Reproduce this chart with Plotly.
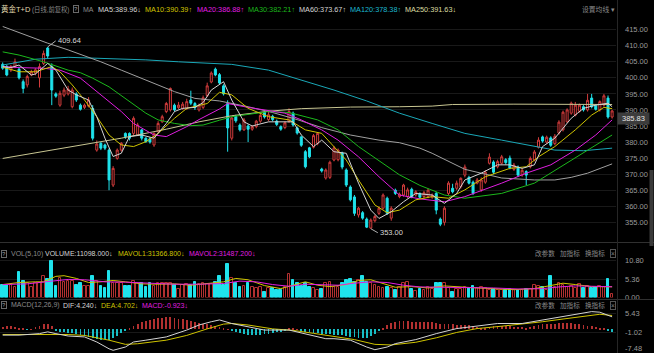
import plotly.graph_objects as go

W, H = 654, 353

# ---------------- price data ----------------
opens = [404.2, 403.5, 402.4, 403.5, 402.7, 398.8, 397.8, 400.9, 401.5, 400.0,
 404.5, 409.3, 403.5, 395.0, 391.5, 394.6, 395.0, 391.0, 395.0, 391.5,
 390.8, 391.2, 390.5, 377.5, 379.6, 379.1, 377.5, 366.6, 374.9, 377.5,
 382.7, 382.7, 382.7, 382.2, 383.8, 381.2, 381.0, 379.1, 383.2, 386.3,
 389.5, 390.0, 391.5, 390.7, 390.5, 390.5, 393.1, 392.0, 390.0, 390.8,
 394.5, 398.7, 402.7, 401.0, 397.5, 392.0, 381.2, 388.0, 385.3, 383.8,
 385.0, 384.0, 384.8, 386.5, 389.3, 387.0, 388.0, 386.5, 384.8, 384.5,
 386.5, 389.0, 384.4, 381.6, 377.0, 378.2, 378.4, 379.6, 371.6, 368.8,
 369.0, 374.4, 374.5, 376.6, 371.3, 366.0, 362.9, 357.3, 358.0, 356.0,
 353.2, 355.5, 357.8, 359.4, 362.5, 356.3, 365.0, 363.0, 363.5, 363.0,
 365.3, 363.5, 364.0, 363.0, 363.0, 362.8, 364.0, 356.0, 355.0, 364.0,
 365.6, 365.6, 366.1, 369.7, 369.0, 367.5, 367.2, 365.1, 367.5, 373.4,
 373.8, 372.3, 373.4, 374.5, 375.0, 371.5, 372.2, 369.7, 370.8, 372.3,
 374.4, 378.4, 381.6, 380.0, 381.3, 379.5, 382.8, 383.8, 386.3, 389.0,
 388.4, 389.6, 391.0, 390.0, 393.7, 391.3, 390.0, 391.5, 393.7, 387.8]

highs = [404.8, 404.0, 404.0, 406.0, 403.5, 399.5, 401.0, 402.5, 403.0, 404.5,
 408.5, 409.64, 404.5, 395.5, 396.0, 397.0, 397.5, 397.0, 395.5, 392.0,
 392.0, 394.0, 391.5, 380.5, 380.0, 379.5, 378.0, 372.5, 378.0, 380.0,
 383.0, 383.0, 388.0, 386.0, 384.0, 381.5, 381.5, 383.0, 386.5, 388.5,
 392.5, 397.0, 392.0, 392.5, 392.5, 393.5, 396.0, 392.5, 392.0, 394.5,
 398.5, 402.0, 403.2, 401.5, 398.0, 393.0, 388.0, 388.5, 385.8, 387.5,
 385.5, 385.3, 386.9, 389.0, 389.8, 389.5, 388.5, 387.0, 385.2, 386.5,
 390.5, 389.5, 384.8, 382.0, 377.5, 378.5, 382.5, 383.0, 372.0, 371.8,
 374.2, 378.8, 378.0, 377.0, 371.8, 366.5, 363.5, 359.8, 358.5, 356.5,
 356.2, 357.3, 360.0, 364.0, 363.0, 360.0, 365.5, 364.3, 367.0, 365.8,
 365.8, 365.0, 364.3, 364.8, 365.5, 364.0, 364.5, 356.5, 360.0, 367.8,
 367.0, 368.0, 369.0, 373.0, 369.5, 368.0, 368.8, 369.0, 371.2, 376.5,
 374.3, 374.5, 376.0, 375.0, 375.8, 373.5, 372.7, 371.8, 371.2, 375.5,
 377.5, 381.5, 382.0, 382.0, 381.8, 382.5, 386.8, 389.8, 390.5, 392.6,
 392.5, 392.0, 391.5, 395.0, 395.0, 391.8, 393.0, 395.0, 394.5, 390.0]

lows = [402.5, 400.5, 401.8, 403.0, 399.5, 395.2, 397.0, 400.5, 400.8, 397.0,
 404.0, 406.0, 391.5, 393.8, 391.0, 394.0, 394.5, 390.5, 392.5, 389.8,
 390.3, 390.8, 380.5, 377.0, 377.5, 377.5, 365.0, 366.0, 374.5, 377.0,
 381.0, 380.5, 382.0, 382.0, 380.5, 379.8, 379.5, 378.5, 383.0, 386.0,
 389.0, 389.5, 389.5, 390.3, 390.0, 390.0, 391.5, 390.0, 389.5, 390.3,
 394.0, 398.3, 400.5, 398.0, 394.5, 377.0, 380.5, 386.0, 383.3, 383.5,
 380.0, 383.5, 384.3, 386.0, 387.3, 386.5, 386.5, 385.0, 383.5, 384.0,
 386.0, 384.8, 382.3, 378.5, 371.8, 375.0, 378.0, 379.0, 370.5, 368.3,
 368.5, 374.0, 374.0, 371.5, 366.0, 361.5, 357.0, 356.5, 355.8, 353.2,
 353.0, 355.0, 357.3, 359.0, 357.3, 355.5, 363.5, 362.5, 363.0, 362.5,
 362.5, 363.0, 362.3, 362.5, 362.5, 362.3, 357.5, 353.8, 354.0, 363.5,
 364.0, 365.0, 365.5, 369.0, 366.8, 363.5, 366.8, 364.5, 367.0, 373.0,
 370.0, 371.8, 373.0, 373.0, 371.5, 371.0, 369.2, 369.2, 366.6, 371.8,
 374.0, 378.0, 379.8, 379.5, 378.5, 379.0, 382.3, 383.3, 386.0, 388.5,
 388.0, 389.2, 389.5, 389.5, 390.5, 389.8, 389.5, 391.0, 387.3, 387.3]

closes = [403.0, 400.9, 403.5, 405.0, 400.0, 396.7, 400.4, 401.9, 402.5, 403.5,
 407.6, 406.8, 396.2, 394.3, 395.2, 396.2, 396.5, 396.2, 393.1, 390.2,
 391.5, 393.1, 381.2, 379.4, 378.1, 378.1, 368.2, 371.8, 377.5, 379.6,
 381.7, 381.2, 387.4, 385.3, 381.2, 380.1, 380.0, 382.7, 385.8, 387.9,
 392.0, 396.7, 390.0, 391.5, 391.8, 392.6, 392.1, 390.7, 391.5, 393.8,
 397.5, 401.5, 400.9, 398.4, 395.0, 384.4, 387.5, 386.6, 383.8, 386.9,
 384.0, 384.8, 386.5, 388.3, 387.8, 388.5, 387.0, 385.5, 384.0, 386.0,
 389.5, 385.3, 382.8, 379.0, 372.3, 375.4, 382.0, 382.7, 371.0, 371.3,
 373.7, 378.2, 377.5, 372.2, 366.6, 362.0, 357.8, 359.4, 356.3, 353.5,
 355.7, 356.8, 359.4, 363.5, 357.8, 359.4, 364.0, 363.8, 366.6, 365.1,
 362.9, 364.5, 362.8, 364.2, 365.0, 363.5, 358.8, 354.4, 359.4, 367.2,
 364.5, 367.2, 368.7, 372.2, 367.2, 364.0, 368.2, 368.2, 370.6, 375.3,
 370.6, 373.9, 375.4, 373.6, 371.9, 372.8, 369.7, 371.2, 369.7, 374.9,
 376.9, 380.6, 380.3, 381.5, 379.0, 381.8, 386.2, 389.3, 390.0, 392.1,
 391.5, 391.5, 390.0, 393.0, 391.0, 390.2, 392.6, 394.4, 387.8, 389.7]

# volume in units of 10^4
volumes = [3.7, 3.7, 3.7, 3.2, 7.4, 4.9, 4.2, 3.2, 4.3, 4.2,
 6.3, 5.3, 10.8, 3.3, 5.6, 4.6, 4.9, 4.9, 3.7, 4.2,
 3.4, 3.4, 6.3, 4.9, 3.4, 2.7, 7.8, 4.3, 4.2, 4.2,
 3.4, 3.4, 4.9, 4.2, 4.3, 3.2, 4.2, 3.4, 4.2, 4.2,
 4.2, 4.2, 3.8, 2.5, 3.7, 3.9, 3.7, 4.6, 3.9, 4.2,
 3.9, 4.0, 4.6, 6.3, 3.7, 9.7, 5.6, 4.2, 3.2, 3.4,
 4.3, 3.2, 2.7, 3.2, 1.7, 2.7, 2.7, 2.2, 2.2, 3.2,
 6.9, 5.1, 4.2, 3.4, 4.3, 3.2, 2.7, 2.2, 2.4, 4.2,
 4.6, 3.2, 3.2, 4.2, 5.1, 5.3, 4.6, 5.1, 6.3, 4.6,
 4.2, 3.7, 3.0, 2.7, 3.2, 2.7, 2.2, 3.2, 4.2, 4.6,
 2.4, 2.0, 2.4, 2.2, 3.2, 2.4, 4.4, 4.2, 4.4, 2.7,
 1.7, 2.4, 2.4, 3.2, 2.7, 3.4, 2.7, 3.0, 2.7, 2.2,
 2.4, 2.2, 2.2, 2.2, 2.4, 2.2, 2.2, 2.2, 2.4, 2.4,
 3.7, 3.4, 3.0, 2.2, 6.4, 3.2, 4.4, 3.7, 3.2, 3.4,
 2.7, 4.0, 2.7, 3.4, 2.7, 3.2, 3.4, 3.2, 5.3, 1.11]

macd_hist = [0.9, 1.0, 1.1, 0.9, 0.6, 0.2, -0.1, 0.1, 0.8, 1.3,
 1.8, 2.0, 1.0, -0.4, -0.8, -1.0, -1.2, -1.3, -1.5, -1.8,
 -2.2, -2.6, -3.0, -3.3, -3.6, -3.2, -3.5, -3.0, -2.2, -1.2,
 -0.4, 0.5, 1.3, 1.9, 2.4, 2.8, 3.1, 3.4, 3.7, 4.0,
 4.2, 4.2, 3.9, 3.6, 3.4, 3.1, 2.9, 2.6, 2.3, 2.0,
 1.8, 1.5, 1.1, 0.8, 0.4, 0.1, -0.5, -0.9, -1.3, -1.6,
 -1.8, -2.0, -1.9, -1.8, -1.6, -1.4, -1.2, -0.9, -0.7, -0.3,
 0.3, 0.4, 0.1, -0.3, -0.8, -1.0, -1.1, -1.2, -1.4, -1.5,
 -1.6, -1.7, -1.8, -2.0, -2.2, -2.4, -2.6, -2.8, -2.9, -2.7,
 -2.2, -1.5, -0.6, 0.5, 1.4, 2.2, 2.6, 2.8, 2.9, 2.8,
 2.6, 2.5, 2.4, 2.4, 2.6, 2.5, 2.3, 2.0, 1.8, 1.8,
 1.7, 1.5, 1.4, 1.6, 1.5, 1.2, 0.9, 0.6, 0.5, 0.8,
 1.0, 1.1, 1.2, 1.1, 1.0, 0.9, 0.8, 0.8, 0.6, 0.9,
 1.2, 1.6, 1.8, 2.0, 1.8, 1.9, 2.1, 2.3, 2.2, 2.2,
 2.0, 1.8, 1.5, 1.3, 1.0, 0.7, 0.4, 0.2, -0.5, -0.92]

# moving-average lines read at sample candles (index, value)
ma5_i = [0, 2, 4, 7, 8, 11, 13, 16, 18, 21, 23, 25, 27, 29, 31, 34, 37, 40, 42, 44, 47, 49, 51, 54, 56, 59, 61, 65, 69, 71, 73, 76, 78, 81, 84, 87, 90, 92, 95, 98, 101, 105, 108, 111, 113, 117, 121, 124, 127, 130, 132, 135, 139, 142, 145, 148, 149]
ma5_v = [403.5, 403.2, 404.0, 400.9, 401.2, 404.5, 402.4, 396.2, 394.7, 393.1, 387.9, 381.2, 375.5, 376.5, 381.7, 382.2, 381.2, 385.8, 389.5, 390.5, 390.8, 392.3, 396.2, 398.8, 393.1, 386.3, 385.0, 386.3, 386.3, 386.3, 382.2, 378.6, 380.6, 377.0, 376.5, 367.2, 358.8, 356.2, 358.3, 361.4, 364.0, 363.5, 360.9, 364.0, 368.2, 370.3, 372.9, 372.9, 371.8, 372.9, 378.6, 381.2, 387.4, 390.5, 391.5, 392.1, 391.0]
ma10_i = [0, 4, 8, 12, 14, 17, 20, 23, 26, 29, 32, 35, 38, 42, 45, 48, 50, 53, 56, 60, 65, 70, 74, 78, 81, 84, 87, 91, 94, 97, 101, 105, 109, 113, 118, 124, 128, 131, 135, 140, 144, 147, 149]
ma10_v = [403.3, 401.9, 401.9, 403.5, 401.9, 397.8, 393.1, 387.9, 382.2, 379.1, 378.6, 380.1, 382.7, 387.4, 390.5, 391.5, 392.0, 395.5, 394.7, 390.5, 387.9, 386.9, 383.8, 382.7, 378.6, 374.4, 368.2, 360.4, 358.0, 358.8, 362.0, 363.0, 362.5, 365.1, 369.2, 371.8, 372.3, 375.4, 378.6, 383.8, 388.4, 390.8, 390.4]
ma20_i = [0, 4, 10, 14, 19, 24, 29, 32, 37, 40, 45, 48, 53, 55, 60, 69, 73, 78, 82, 87, 92, 97, 102, 108, 113, 122, 128, 134, 140, 145, 149]
ma20_v = [403.5, 403.2, 403.0, 402.4, 399.9, 394.7, 389.5, 385.8, 382.2, 381.7, 384.8, 387.0, 390.3, 392.0, 390.8, 389.0, 386.9, 383.8, 380.6, 375.4, 369.2, 363.5, 362.3, 361.4, 363.0, 367.2, 370.3, 372.9, 377.5, 382.2, 386.9]
ma30_i = [0, 4, 10, 16, 19, 22, 26, 30, 35, 38, 42, 46, 49, 53, 56, 65, 70, 77, 82, 87, 94, 97, 102, 108, 113, 122, 130, 138, 143, 149]
ma30_v = [408.1, 407.1, 405.0, 402.4, 401.6, 399.9, 397.2, 393.6, 389.0, 386.9, 385.8, 385.1, 385.3, 386.8, 387.9, 389.5, 389.2, 386.9, 383.8, 378.6, 372.3, 369.8, 366.5, 363.5, 362.5, 364.0, 367.2, 373.4, 377.5, 382.2]
ma60_i = [0, 11, 16, 24, 29, 35, 42, 47, 53, 60, 66, 72, 78, 85, 92, 97, 102, 105, 113, 122, 130, 135, 139, 143, 149]
ma60_v = [416.0, 410.8, 408.7, 405.0, 402.4, 399.3, 395.7, 393.6, 392.8, 391.0, 389.2, 387.0, 384.5, 382.2, 380.6, 379.8, 378.1, 376.5, 371.5, 368.8, 368.2, 368.2, 369.0, 370.3, 373.2]
ma120_i = [0, 8, 16, 24, 35, 43, 53, 56, 65, 73, 81, 89, 97, 105, 113, 122, 130, 135, 142, 149]
ma120_v = [404.0, 405.8, 406.4, 406.1, 405.6, 405.0, 404.5, 404.2, 402.4, 399.3, 396.2, 392.8, 389.0, 385.8, 382.7, 380.6, 378.6, 377.5, 377.3, 378.1]
ma250_i = [0, 15, 29, 40, 48, 56, 65, 73, 85, 97, 105, 110, 125, 149]
ma250_v = [374.9, 378.2, 381.2, 384.0, 386.3, 388.2, 389.6, 390.4, 390.9, 391.0, 391.2, 391.7, 391.8, 391.7]

mavol1_i = [0, 4, 8, 10, 13, 15, 18, 21, 24, 27, 30, 34, 38, 42, 46, 50, 54, 57, 60, 64, 68, 71, 74, 77, 80, 84, 87, 90, 93, 96, 100, 104, 108, 112, 116, 120, 125, 130, 134, 137, 140, 144, 149]
mavol1_v = [3.8, 4.4, 4.6, 4.6, 6.2, 6.4, 5.6, 4.4, 4.6, 5.0, 4.6, 4.0, 3.9, 4.0, 3.6, 4.0, 4.6, 5.6, 5.2, 3.5, 2.6, 3.6, 4.6, 3.6, 3.2, 3.8, 5.0, 5.2, 4.2, 3.0, 3.2, 2.8, 3.4, 3.0, 2.8, 2.6, 2.3, 2.6, 3.6, 4.2, 3.8, 3.2, 3.14]
mavol2_i = [0, 6, 12, 16, 20, 25, 30, 36, 42, 48, 54, 58, 62, 66, 70, 74, 78, 82, 86, 90, 94, 98, 102, 108, 114, 120, 126, 132, 136, 140, 144, 149]
mavol2_v = [3.8, 4.0, 4.8, 5.3, 5.2, 4.6, 4.5, 4.1, 3.9, 3.9, 4.1, 4.8, 4.6, 3.8, 3.3, 3.9, 3.7, 3.6, 4.2, 4.6, 4.4, 3.6, 3.1, 3.0, 3.0, 2.8, 2.5, 2.6, 3.1, 3.4, 3.3, 3.15]

dif_i = [0, 4, 9, 11, 13, 16, 20, 23, 26, 27, 30, 32, 35, 40, 45, 48, 51, 53, 56, 60, 64, 70, 74, 79, 81, 85, 89, 91, 94, 96, 101, 106, 111, 116, 121, 127, 132, 137, 142, 144, 146, 149]
dif_v = [-1.9, -1.9, -1.4, -0.8, -1.4, -2.2, -2.5, -4.2, -6.5, -7.0, -5.9, -4.2, -3.6, -2.5, -0.2, 1.5, 2.6, 3.2, 2.0, 0.9, -0.2, -0.2, -1.4, -3.1, -3.1, -3.6, -5.9, -6.8, -5.9, -4.75, -3.4, -1.4, 0.3, 1.1, 2.0, 2.0, 3.2, 4.3, 5.4, 6.0, 5.8, 4.24]
dea_i = [0, 10, 16, 20, 26, 30, 33, 40, 45, 50, 54, 56, 60, 66, 71, 76, 81, 86, 91, 95, 101, 106, 111, 116, 122, 127, 132, 137, 142, 146, 149]
dea_v = [-1.7, -1.6, -1.7, -2.0, -3.6, -5.0, -4.8, -3.6, -2.0, 0.2, 1.8, 2.0, 1.5, 0.2, -0.3, -1.3, -2.3, -3.4, -5.0, -5.2, -4.3, -2.8, -1.0, 0.3, 1.1, 1.8, 2.6, 3.5, 4.5, 5.1, 4.70]

price_ticks = [415, 410, 405, 400, 395, 390, 385, 380, 375, 370, 365, 360, 355]
vol_ticks = [10.80, 5.36, 0.00]
macd_ticks = [5.43, -1.02]

# ---------------- style ----------------
BG = '#000000'
RED = '#d23c3c'
RED_DIM = '#b23030'
CYAN = '#1fe3ec'
CYAN_DIM = '#17bcc4'
GRID = '#191919'
TXT = '#9a9a9a'
GRAY = '#8a8a8a'
FONT = 'Liberation Sans, Noto Sans CJK SC, sans-serif'
C_MA5 = '#d4d4d4'
C_MA10 = '#cfc400'
C_MA20 = '#e01ee0'
C_MA30 = '#1cb81c'
C_MA60 = '#a0a0a0'
C_MA120 = '#1aa8b8'
C_MA250 = '#c8c692'

n = len(closes)
idx = list(range(n))
up = [c >= o for o, c in zip(opens, closes)]

fig = go.Figure()

fig.add_trace(go.Candlestick(
    x=idx, open=opens, high=highs, low=lows, close=closes,
    increasing=dict(line=dict(color=RED, width=1), fillcolor=BG),
    decreasing=dict(line=dict(color=CYAN, width=1), fillcolor=CYAN),
    whiskerwidth=0, hoverinfo='skip', xaxis='x', yaxis='y'))

for xi, yv, col in [(ma250_i, ma250_v, C_MA250), (ma120_i, ma120_v, C_MA120),
                    (ma60_i, ma60_v, C_MA60), (ma30_i, ma30_v, C_MA30),
                    (ma20_i, ma20_v, C_MA20), (ma10_i, ma10_v, C_MA10),
                    (ma5_i, ma5_v, C_MA5)]:
    fig.add_trace(go.Scatter(x=xi, y=yv, mode='lines', line=dict(color=col, width=1),
                             hoverinfo='skip', xaxis='x', yaxis='y'))

# volume
fig.add_trace(go.Bar(
    x=idx, y=volumes, width=0.66,
    marker=dict(color=[BG if u else CYAN for u in up],
                line=dict(color=[RED_DIM if u else CYAN for u in up], width=1)),
    hoverinfo='skip', xaxis='x2', yaxis='y2'))
fig.add_trace(go.Scatter(x=mavol1_i, y=mavol1_v, mode='lines', line=dict(color=C_MA10, width=1),
                         hoverinfo='skip', xaxis='x2', yaxis='y2'))
fig.add_trace(go.Scatter(x=mavol2_i, y=mavol2_v, mode='lines', line=dict(color=C_MA20, width=1),
                         hoverinfo='skip', xaxis='x2', yaxis='y2'))

# MACD
fig.add_trace(go.Bar(
    x=idx, y=macd_hist, width=0.2,
    marker=dict(color=[RED_DIM if v >= 0 else CYAN_DIM for v in macd_hist], line=dict(width=0)),
    hoverinfo='skip', xaxis='x3', yaxis='y3'))
fig.add_trace(go.Scatter(x=dea_i, y=dea_v, mode='lines', line=dict(color=C_MA10, width=1),
                         hoverinfo='skip', xaxis='x3', yaxis='y3'))
fig.add_trace(go.Scatter(x=dif_i, y=dif_v, mode='lines', line=dict(color=C_MA5, width=1),
                         hoverinfo='skip', xaxis='x3', yaxis='y3'))


def py(p):
    return 1 - p / H


XR = [-0.66, 149.95]
XDOM = [0, 616 / W]
tickfont = dict(size=7.5, color=TXT, family=FONT)

common_y = dict(side='right', showgrid=True, gridcolor=GRID, gridwidth=1, zeroline=False,
                ticks='', showline=False, tickfont=tickfont, automargin=False,
                ticklabelstandoff=8, fixedrange=True)

fig.update_layout(
    width=W, height=H, margin=dict(l=0, r=0, t=0, b=0),
    paper_bgcolor=BG, plot_bgcolor=BG, showlegend=False, bargap=0,
    xaxis=dict(domain=XDOM, range=XR, visible=False, anchor='y', rangeslider=dict(visible=False)),
    xaxis2=dict(domain=XDOM, range=XR, visible=False, anchor='y2', matches='x'),
    xaxis3=dict(domain=XDOM, range=XR, visible=False, anchor='y3', matches='x'),
    yaxis=dict(domain=[py(240), py(20)], range=[349.49, 418.02], anchor='x',
               tickvals=price_ticks, ticktext=[f'{v:.2f}' for v in price_ticks], **common_y),
    yaxis2=dict(domain=[py(297.5), py(255)], range=[0, 12.47], anchor='x2',
                tickvals=vol_ticks, ticktext=[f'{v:.2f}' for v in vol_ticks], **common_y),
    yaxis3=dict(domain=[0, py(308)], range=[-7.906, 7.21], anchor='x3',
                tickvals=macd_ticks, ticktext=[f'{v:.2f}' for v in macd_ticks], **common_y),
)

ann = []


def label(text, x, y, color, size=7, **kw):
    ann.append(dict(text=text, x=x / W, y=py(y), xref='paper', yref='paper',
                    xanchor='left', yanchor='middle', showarrow=False,
                    font=dict(size=size, color=color, family=FONT), borderpad=0, **kw))


def qbox(x, y):
    label('?', x, y, '#a0a0a0', size=6, bordercolor='#6a6a6a', borderwidth=1)


# main header
label('黄金T+D', 0, 9.5, '#e2dab0', size=7.5)
label('(日线,前复权)', 31, 9.5, GRAY, size=6.3)
qbox(73, 9.5)
label('MA', 82, 9.5, GRAY)
label('MA5:389.96↓', 97, 9.5, C_MA5, size=7.3)
label('MA10:390.39↑', 144, 9.5, C_MA10, size=7.3)
label('MA20:386.88↑', 196, 9.5, C_MA20, size=7.3)
label('MA30:382.21↑', 247, 9.5, C_MA30, size=7.3)
label('MA60:373.67↑', 298, 9.5, C_MA5, size=7.3)
label('MA120:378.38↑', 349, 9.5, '#1cb8d0', size=7.3)
label('MA250:391.63↓', 404, 9.5, '#dcdca0', size=7.3)
label('设置均线 ▾', 581, 9.5, GRAY, size=6.8)

# volume header
qbox(1, 253.5)
label('VOL(5,10)', 10, 253.5, GRAY, size=7)
label('VOLUME:11098.000↓', 44, 253.5, C_MA5, size=7)
label('MAVOL1:31366.800↓', 117, 253.5, C_MA10, size=7)
label('MAVOL2:31487.200↓', 188, 253.5, C_MA20, size=7)

# MACD header
qbox(1, 305)
label('MACD(12,26,9)', 10, 305, GRAY, size=7)
label('DIF:4.240↓', 62, 305, C_MA5, size=7)
label('DEA:4.702↓', 100, 305, C_MA10, size=7)
label('MACD:-0.923↓', 141, 305, C_MA20, size=7)

for yy in (253.5, 305):
    label('改参数', 534, yy, GRAY, size=6.6)
    label('加指标', 559, yy, GRAY, size=6.6)
    label('换指标', 584, yy, GRAY, size=6.6)
    label('×', 610, yy, GRAY, size=6.5, bordercolor='#555555', borderwidth=1)

# bottom MACD tick (clamped at canvas edge)
label('-7.48', 624, 348.5, TXT, size=7.5)

# current price tag
ann.append(dict(text='385.83', x=633 / W, y=py(118.5), xref='paper', yref='paper',
                xanchor='center', yanchor='middle', showarrow=False, width=29, height=9,
                bgcolor='#3c3c3c', font=dict(size=7.5, color='#e6e6e6', family=FONT)))

# high / low markers
ann.append(dict(text='409.64', x=11, y=409.64, xref='x', yref='y', showarrow=True,
                arrowhead=0, arrowwidth=1, arrowcolor='#b0b0b0', ax=8, ay=-6,
                xanchor='left', yanchor='middle', font=dict(size=7.5, color='#d8d8d8', family=FONT)))
ann.append(dict(text='353.00', x=90, y=353.0, xref='x', yref='y', showarrow=True,
                arrowhead=0, arrowwidth=1, arrowcolor='#b0b0b0', ax=7, ay=4,
                xanchor='left', yanchor='middle', font=dict(size=7.5, color='#d8d8d8', family=FONT)))

fig.update_layout(annotations=ann)

shapes = [
    dict(type='line', xref='paper', yref='paper', x0=0, x1=1, y0=py(242.5), y1=py(242.5),
         line=dict(color='#303030', width=1)),
    dict(type='line', xref='paper', yref='paper', x0=0, x1=1, y0=py(299.5), y1=py(299.5),
         line=dict(color='#303030', width=1)),
    dict(type='line', xref='paper', yref='paper', x0=617.5 / W, x1=617.5 / W, y0=0, y1=1,
         line=dict(color='#262626', width=1)),
    dict(type='rect', xref='paper', yref='paper', x0=649.5 / W, x1=653.5 / W, y0=py(246), y1=py(170),
         fillcolor='#3a3a3a', line=dict(width=0)),
]
fig.update_layout(shapes=shapes)

fig.write_html('out.html')
